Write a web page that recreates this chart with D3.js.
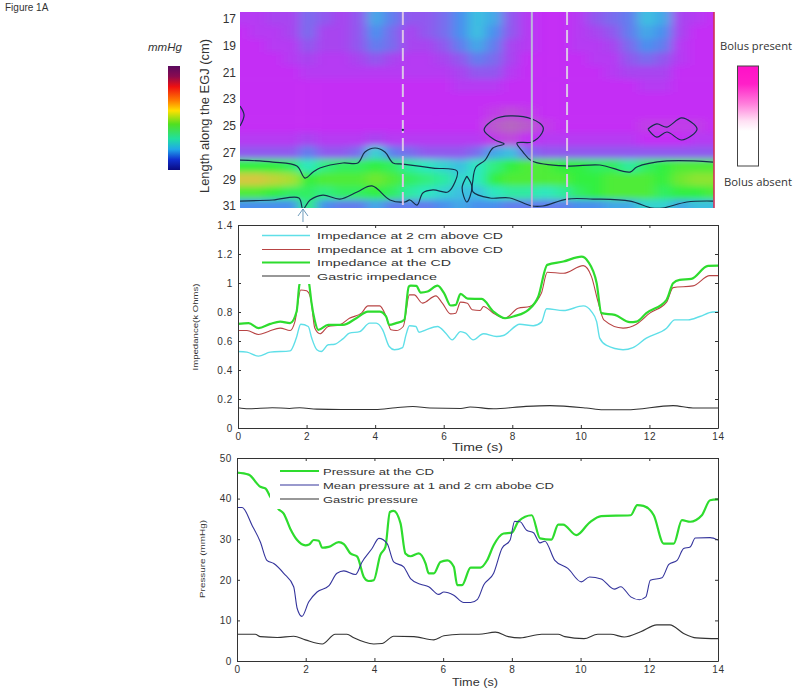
<!DOCTYPE html>
<html><head><meta charset="utf-8">
<script src="https://cdnjs.cloudflare.com/ajax/libs/d3/7.8.5/d3.min.js"></script>
<style>html,body{margin:0;padding:0;background:#fff}svg{display:block}text{font-family:"Liberation Sans",Arial,sans-serif;fill:#333}</style>
</head><body><svg id="c" width="800" height="698"></svg>
<script>
// ---------- heat map data ----------
const hmTimes = [0,.5,1,1.5,2,2.5,3,3.5,4,4.5,5,5.5,6,6.5,7,7.5,8,8.5,9,9.5,10,10.5,11,11.5,12,12.5,13,13.5,14];
const hmRows = [17,18,19,20,21,22,23,24,25,26,27,28,29,30,31];
const hmValues = [
[1,1,2,2,4,3,2,3,7,5,3,3,4,6,8,7,3,1,0,0,1,3,4,5,8,7,2,1,0],
[0,1,1,2,4,2,2,3,6,4,2,3,4,6,8,6,3,1,0,0,1,2,3,5,7,6,2,0,0],
[0,0,1,1,3,2,2,3,5,4,2,2,3,5,7,5,2,1,0,0,1,1,2,4,6,5,1,0,0],
[0,0,0,1,2,1,1,2,3,2,1,1,2,3,5,4,2,0,0,0,0,1,1,3,4,3,1,0,0],
[0,0,0,0,1,1,1,1,1,1,1,1,1,2,3,3,1,0,0,0,0,0,1,2,2,2,0,0,0],
[0,0,0,0,0,0,0,0,0,0,0,0,0,1,1,1,0,0,0,0,0,0,0,0,1,1,0,0,0],
[0,0,0,0,0,0,0,0,0,0,0,0,0,0,0,0,0,0,0,0,0,0,0,0,0,0,0,0,0],
[0,0,0,0,0,0,0,0,0,0,0,0,0,0,0,-1,-2,-1,0,0,0,0,0,0,0,0,0,0,0],
[0,0,0,0,0,0,0,0,0,0,0,0,0,0,0,-3,-4,-3,-1,0,0,0,0,0,-1,-1,-1,-1,0],
[1,1,1,1,2,1,1,1,2,1,1,1,1,1,1,-1,-2,0,1,1,1,1,1,1,0,0,0,1,1],
[3,3,3,3,5,3,3,4,9,5,4,3,3,3,4,7,8,4,3,3,3,3,3,3,3,3,3,3,3],
[14,14,14,13,10,12,13,13,14,13,11,10,9,8,10,12,14,15,15,14,14,13,13,11,13,14,15,15,15],
[20,20,19,18,14,15,15,15,16,15,13,12,11,9,10,14,15,15,15,15,14,14,15,15,15,14,16,17,17],
[15,15,14,13,13,12,13,13,14,13,11,10,9,8,8,10,11,11,10,11,13,14,15,15,15,13,14,14,15],
[6,6,6,6,12,6,5,5,7,5,5,5,6,7,6,6,5,5,5,5,6,6,7,7,9,9,7,8,8]];
const hmColorDomain = [-4,0,2,4,6,8,10,12,14,16,18,20];
const hmColorRange = ["#b568c0","#c42ef5","#a845f0","#7a6cee","#4a90ee","#3cc0e0","#2ee8c0","#30ee80","#30f040","#70e830","#a8e030","#d4c840"];
const hmTicks = [17,19,21,23,25,27,29,31];
const contourBandLeft = [[0,27.56],[.97,27.71],[1.68,28.01],[1.92,28.91],[2.16,28.46],[2.36,28.16],[3.04,27.78],[3.48,27.78],[3.69,26.96],[3.99,26.66],[4.28,26.96],[4.52,27.78],[4.81,27.86],[5.7,28.16],[6.41,28.38],[6.35,29.2],[6.14,29.95],[5.7,29.8],[5.4,30.03],[5.23,30.93],[5.02,30.55],[4.87,30.7],[4.43,30.55],[3.9,29.5],[3.46,29.95],[2.95,30.48],[2.45,30.18],[2.07,30.55],[1.86,31.23],[1.74,30.4],[.97,30.55],[0,30.63]];
const contourBandRight = [[13.97,27.71],[12.61,27.63],[11.72,28.08],[11.52,28.46],[10.63,27.93],[9.66,28.01],[8.62,27.63],[8.36,26.96],[8.18,26.29],[8.62,26.21],[8.92,25.54],[8.95,25.09],[8.62,24.49],[7.97,24.26],[7.53,24.49],[7.21,25.31],[7.53,26.06],[7.8,26.36],[7.47,26.66],[7.24,27.56],[6.97,28.08],[6.88,29.05],[6.88,29.95],[7.38,30.4],[7.97,30.4],[8.62,31],[8.95,31],[9.66,30.48],[10.43,30.48],[11.52,30.63],[12.17,31.15],[12.49,31.15],[13.2,30.7],[13.97,30.63]];
const contourLoop = [[6.7,28.76],[6.85,29.58],[6.7,30.7],[6.56,29.65],[6.7,28.76]];
const contourBlob = [[12.05,25.24],[12.31,24.86],[12.61,25.09],[13.05,24.41],[13.5,25.24],[13.05,26.06],[12.61,25.46],[12.31,25.84],[12.05,25.24]];
const contourEdge = [[0,23.52],[.12,24.19],[0,25.01]];
const vLines = [{t:4.81,dash:"13,5"},{t:8.62,dash:null},{t:9.66,dash:"13,5"}];
const pressureBarStops = [[0,"#5a0a5e"],[.1,"#8a0a50"],[.2,"#f01010"],[.33,"#ff7a00"],[.43,"#ffe000"],[.56,"#50e020"],[.7,"#20e0a0"],[.8,"#20a8e8"],[.9,"#1030d0"],[1,"#0a0a80"]];
const bolusBarStops = [[0,"#ff10c8"],[.18,"#ff20c8"],[.38,"#ff80dc"],[.55,"#ffe0f4"],[.65,"#ffffff"],[1,"#ffffff"]];

// ---------- impedance data ----------
const impCyan = [[0,.528],[.26,.523],[.6,.496],[.94,.523],[1.52,.532],[1.7,.62],[1.83,.716],[2.05,.7],[2.15,.62],[2.3,.54],[2.43,.528],[2.63,.574],[2.82,.578],[3.06,.615],[3.25,.654],[3.55,.665],[3.84,.723],[4.03,.723],[4.22,.677],[4.41,.562],[4.56,.54],[4.8,.555],[4.9,.642],[5,.705],[5.19,.7],[5.28,.66],[5.48,.677],[5.82,.7],[6.06,.654],[6.25,.608],[6.49,.665],[6.64,.654],[6.86,.608],[7.16,.65],[7.54,.631],[7.74,.638],[8.22,.716],[8.61,.705],[8.85,.73],[9,.822],[9.49,.81],[10.07,.842],[10.31,.803],[10.46,.734],[10.55,.62],[10.75,.569],[11.23,.54],[11.52,.555],[11.91,.62],[12.5,.688],[12.74,.746],[13.13,.746],[13.47,.769],[13.85,.8],[14,.8]];
const impRed = [[0,.672],[.26,.672],[.6,.645],[.89,.666],[1.23,.689],[1.52,.672],[1.66,.734],[1.83,.952],[2,.946],[2.12,.895],[2.24,.689],[2.39,.65],[2.63,.7],[2.97,.711],[3.25,.757],[3.6,.792],[3.79,.842],[4.13,.842],[4.32,.769],[4.46,.677],[4.61,.672],[4.82,.7],[5,.918],[5.14,.918],[5.38,.861],[5.77,.911],[5.96,.861],[6.2,.787],[6.35,.792],[6.49,.868],[6.69,.861],[6.83,.815],[7.06,.81],[7.16,.838],[7.45,.792],[7.79,.757],[8.17,.826],[8.51,.838],[8.85,.93],[9.02,1.074],[9.49,1.067],[10.07,1.12],[10.31,1.044],[10.5,.872],[10.67,.746],[11.23,.689],[11.62,.716],[12.01,.792],[12.5,.868],[12.69,.968],[13.27,.98],[13.76,1.051],[14,1.051]];
const impGreen = [[0,.718],[.31,.723],[.6,.689],[.94,.718],[1.23,.734],[1.52,.723],[1.71,.803],[1.79,.987],[1.9,1.05],[2.03,1.05],[2.08,.987],[2.14,.87],[2.24,.74],[2.34,.677],[2.63,.711],[3.06,.711],[3.45,.757],[3.79,.803],[4.13,.803],[4.32,.769],[4.41,.711],[4.61,.723],[4.85,.746],[4.98,.975],[5.04,.982],[5.2,.98],[5.33,.934],[5.53,.941],[5.82,.982],[6.01,.93],[6.2,.845],[6.35,.849],[6.49,.925],[6.7,.892],[7.11,.89],[7.45,.803],[7.79,.757],[8.08,.773],[8.47,.815],[8.76,.907],[9.02,1.125],[9.49,1.148],[10.02,1.182],[10.21,1.148],[10.46,1],[10.6,.792],[10.99,.78],[11.43,.73],[11.62,.734],[11.91,.792],[12.5,.884],[12.69,.998],[12.88,1.021],[13.22,1.028],[13.71,1.118],[14,1.12]];
const impGastric = [[0,.14],[.3,.133],[1,.14],[1.5,.135],[1.8,.14],[2.3,.13],[3,.128],[4,.128],[4.6,.14],[5.1,.148],[5.6,.138],[6.5,.135],[6.77,.145],[7.45,.133],[8.4,.149],[9.1,.154],[10.16,.138],[10.65,.126],[11.33,.126],[12.69,.154],[13.27,.138],[14,.138]];

// ---------- pressure data ----------
const presGreen = [[0,46.4],[.34,45.9],[.68,42.9],[.83,42.5],[.97,40.4],[1.21,37.4],[1.36,36.3],[1.55,32.6],[1.75,29.8],[1.99,28.5],[2.1,28.7],[2.23,29.8],[2.38,29.6],[2.48,27.9],[2.67,28.1],[2.96,29.3],[3.11,28.8],[3.3,26.5],[3.5,25.7],[3.69,20.7],[3.83,19.7],[3.98,19.9],[4.17,26.1],[4.32,28.1],[4.45,36.7],[4.56,37],[4.76,33.9],[4.9,26.5],[5.05,25.8],[5.29,26.5],[5.49,24],[5.58,21.6],[5.73,21.6],[5.92,24.4],[6.12,24.8],[6.31,23.2],[6.41,18.7],[6.55,18.7],[6.8,23],[7.09,23],[7.28,24.8],[7.47,28.5],[7.76,31.4],[8,31.6],[8.19,34.4],[8.58,35.9],[8.82,30.2],[9.15,29.9],[9.35,33.6],[9.49,33.6],[9.88,31],[10.26,34.1],[10.6,35.7],[11.46,35.9],[11.65,38.4],[11.83,38.2],[12.13,35.9],[12.42,28.9],[12.71,28.9],[12.95,34.7],[13.19,34.3],[13.53,35.9],[13.77,39.6],[14,39.8]];
const presBlue = [[0,37.8],[.15,37.8],[.44,33.4],[.68,29.3],[.87,24.8],[1.07,24],[1.36,21.6],[1.65,18.3],[1.75,13],[1.89,11],[2.09,14.6],[2.33,17],[2.67,18.5],[2.91,21.6],[3.11,22.2],[3.45,21.3],[3.64,24.4],[3.93,27.7],[4.13,30.2],[4.37,28.9],[4.56,24.4],[4.85,23.2],[5.05,20.3],[5.34,18.9],[5.58,18.3],[5.87,16.4],[6.02,17],[6.31,16.2],[6.6,14.4],[6.8,14.4],[7,15.2],[7.18,18.7],[7.47,21.6],[7.71,27.7],[7.95,29.8],[8.08,34.4],[8.24,34.3],[8.43,32.2],[8.63,31.6],[8.82,29.1],[8.96,29.5],[9.25,24.8],[9.63,22.8],[10.02,19.5],[10.26,20.7],[10.6,20.2],[10.98,17.7],[11.17,18.3],[11.46,15.8],[11.71,15.1],[11.9,15.8],[12.03,19.9],[12.37,20.5],[12.57,23.8],[12.81,24.8],[13,27.7],[13.19,28.1],[13.34,30.3],[13.77,30.4],[14,29.8]];
const presGastric = [[0,6.6],[.53,6.6],[.68,6],[1.17,5.8],[1.65,6.1],[1.99,5.2],[2.48,4.2],[2.86,6.6],[3.2,6.6],[3.4,5.7],[3.98,4.2],[4.22,4.3],[4.56,6.1],[5.15,6],[5.73,5.2],[6.02,6.2],[6.5,6.6],[7.04,6.6],[7.52,7.1],[7.9,6],[8.24,5.7],[8.87,6.6],[9.35,6.6],[9.54,6],[10.1,5.5],[10.5,6.6],[10.88,6.6],[11.27,5.9],[11.75,7.2],[12.22,8.9],[12.6,8.9],[13,6.8],[13.37,5.7],[14,5.5]];

const xTicks = [0,2,4,6,8,10,12,14];
const impTicks = [0,.2,.4,.6,.8,1,1.2,1.4];
const presTicks = [0,10,20,30,40,50];
const impLegend = [
 {label:"Impedance at 2 cm above CD",color:"#5fdfe8",w:1.5,len:186,ly:235.5,ty:239},
 {label:"Impedance at 1 cm above CD",color:"#b84444",w:1.1,len:186,ly:249.5,ty:253},
 {label:"Impedance at the CD",color:"#2edc2e",w:2.2,len:134,ly:262.5,ty:266},
 {label:"Gastric impedance",color:"#333333",w:1.1,len:120,ly:276,ty:280}];
const presLegend = [
 {label:"Pressure at the CD",color:"#2edc2e",w:2.2,len:111,ly:471,ty:474.5},
 {label:"Mean pressure at 1 and 2 cm abobe CD",color:"#34349c",w:1.1,len:231,ly:485,ty:489},
 {label:"Gastric pressure",color:"#333333",w:1.1,len:95,ly:499,ty:503}];

// ---------- drawing ----------
const svg = d3.select("#c");
const defs = svg.append("defs");
function txt(x,y,s,o={}){const t=svg.append("text").attr("x",x).attr("y",y).text(s);
  Object.entries(o).forEach(([k,v])=>t.attr(k,v));return t;}

const hmBox = {l:240,r:714,t:12,b:208};
const hx = d3.scaleLinear().domain([0,14]).range([hmBox.l,hmBox.r]);
const hy = d3.scaleLinear().domain([16.48,31.15]).range([hmBox.t,hmBox.b]);
const hc = d3.scaleLinear().domain(hmColorDomain).range(hmColorRange);
defs.append("clipPath").attr("id","hmclip").append("rect").attr("x",hmBox.l).attr("y",hmBox.t).attr("width",hmBox.r-hmBox.l).attr("height",hmBox.b-hmBox.t);
const blur = defs.append("filter").attr("id","soft").attr("filterUnits","userSpaceOnUse").attr("x",150).attr("y",-60).attr("width",660).attr("height",340);
blur.append("feGaussianBlur").attr("stdDeviation","6 3.2");
const hmOuter = svg.append("g").attr("clip-path","url(#hmclip)");
const hmG = hmOuter.append("g").attr("filter","url(#soft)");
hmRows.forEach((cm,r)=>hmTimes.forEach((t,c)=>{
  const x0=c===0?hx(t)-40:hx(t-.25), x1=c===hmTimes.length-1?hx(t)+40:hx(t+.25);
  const y0=r===0?hy(cm)-40:hy(cm-.5), y1=r===hmRows.length-1?hy(cm)+40:hy(cm+.5);
  hmG.append("rect").attr("x",x0).attr("y",y0).attr("width",x1-x0+.6).attr("height",y1-y0+.6).attr("fill",hc(hmValues[r][c]));
}));
const cLine = d3.line().x(d=>hx(d[0])).y(d=>hy(d[1])).curve(d3.curveCatmullRom.alpha(.5));
[contourBandLeft,contourBandRight,contourLoop,contourBlob,contourEdge].forEach(d=>{
  hmOuter.append("path").attr("d",cLine(d)).attr("fill","none").attr("stroke","#15304a").attr("stroke-width",1.2);
});
vLines.forEach(v=>{
  const l=hmOuter.append("line").attr("x1",hx(v.t)).attr("x2",hx(v.t)).attr("y1",hmBox.t).attr("y2",hmBox.b)
    .attr("stroke",v.dash?"#dcc4e8":"#bcb4dc").attr("stroke-width",2);
  if(v.dash) l.attr("stroke-dasharray",v.dash);
});
svg.append("line").attr("x1",hmBox.r).attr("x2",hmBox.r).attr("y1",hmBox.t).attr("y2",hmBox.b).attr("stroke","#d03058").attr("stroke-width",1.6);
svg.append("circle").attr("cx",hx(4.81)).attr("cy",hy(25.3)).attr("r",1.2).attr("fill","#15304a");
const ax=hx(1.86);
svg.append("path").attr("d",`M${ax},222V209M${ax-5},216L${ax},209L${ax+5},216`).attr("fill","none").attr("stroke","#6f9cbc").attr("stroke-width",1);
const hyAxis = svg.append("g").attr("transform",`translate(${hmBox.l-1},0)`).call(d3.axisLeft(hy).tickValues(hmTicks).tickSize(0).tickPadding(3));
hyAxis.select(".domain").remove();
hyAxis.selectAll("text").attr("font-size",12).style("font-family",'"Liberation Sans",Arial,sans-serif').attr("fill","#333");
txt(209,116,"Length along the EGJ (cm)",{"font-size":12,"text-anchor":"middle",transform:"rotate(-90 209 116)",textLength:154,lengthAdjust:"spacingAndGlyphs"});
txt(5,11,"Figure 1A",{"font-size":10});
txt(148,51,"mmHg",{"font-size":11.5,"font-style":"italic"});
txt(720,50,"Bolus present",{"font-size":11.5,style:'font-family:"Open Sans"',textLength:72,lengthAdjust:"spacingAndGlyphs"});
txt(724,186,"Bolus absent",{"font-size":11.5,style:'font-family:"Open Sans"',textLength:68,lengthAdjust:"spacingAndGlyphs"});

function gradient(id,stops){const g=defs.append("linearGradient").attr("id",id).attr("x1",0).attr("x2",0).attr("y1",0).attr("y2",1);
  stops.forEach(s=>g.append("stop").attr("offset",s[0]).attr("stop-color",s[1]));}
gradient("pbar",pressureBarStops); gradient("bbar",bolusBarStops);
svg.append("rect").attr("x",168).attr("y",66).attr("width",12).attr("height",104).attr("fill","url(#pbar)");
svg.append("rect").attr("x",737.5).attr("y",66).attr("width",21).attr("height",100).attr("fill","url(#bbar)").attr("stroke","#444").attr("stroke-width",1);

function panel(o){
  const x=d3.scaleLinear().domain([0,14]).range([o.l,o.r]);
  const y=d3.scaleLinear().domain(o.domain).range([o.b,o.t]);
  const g=svg.append("g");
  const line=d3.line().x(d=>x(d[0])).y(d=>y(d[1])).curve(d3.curveMonotoneX);
  o.series.forEach(s=>g.append("path").attr("d",line(s.data)).attr("fill","none").attr("stroke",s.color).attr("stroke-width",s.w));
  g.append("rect").attr("x",o.legend.x).attr("y",o.legend.y).attr("width",o.legend.w).attr("height",o.legend.h).attr("fill","#fff");
  o.legendItems.forEach(l=>{
    g.append("line").attr("x1",o.legend.lx0).attr("x2",o.legend.lx1).attr("y1",l.ly).attr("y2",l.ly).attr("stroke",l.color).attr("stroke-width",l.w);
    g.append("text").attr("x",o.legend.tx).attr("y",l.ty).attr("font-size",9.5).attr("fill","#333").attr("textLength",l.len).attr("lengthAdjust","spacingAndGlyphs").text(l.label);
  });
  const styleAxis=a=>{a.select(".domain").attr("stroke","#333");a.selectAll(".tick line").attr("stroke","#333");
    a.selectAll("text").attr("font-size",10).attr("fill","#444").style("font-family",'"Liberation Sans",Arial,sans-serif').attr("letter-spacing",.6);};
  const bot=g.append("g").attr("transform",`translate(0,${o.b})`).call(d3.axisBottom(x).tickValues(xTicks).tickSizeInner(-3).tickSizeOuter(0).tickPadding(5).tickFormat(d3.format("d")));
  const top=g.append("g").attr("transform",`translate(0,${o.t})`).call(d3.axisTop(x).tickValues(xTicks).tickSizeInner(-3).tickSizeOuter(0).tickFormat(""));
  const lef=g.append("g").attr("transform",`translate(${o.l},0)`).call(d3.axisLeft(y).tickValues(o.ticks).tickSizeInner(-3).tickSizeOuter(0).tickPadding(5).tickFormat(d=>String(d)));
  const rig=g.append("g").attr("transform",`translate(${o.r},0)`).call(d3.axisRight(y).tickValues(o.ticks).tickSizeInner(-3).tickSizeOuter(0).tickFormat(""));
  [bot,top,lef,rig].forEach(styleAxis);
  g.append("text").attr("x",o.xlabel.x).attr("y",o.xlabel.y).attr("font-size",10).attr("fill","#444").attr("textLength",o.xlabel.len).attr("lengthAdjust","spacingAndGlyphs").text("Time (s)");
  g.append("text").attr("text-anchor","middle").attr("font-size",8).attr("fill","#444")
   .attr("transform",`translate(${o.ylabel.x},${o.ylabel.y}) rotate(-90)`).attr("textLength",o.ylabel.len).attr("lengthAdjust","spacingAndGlyphs").text(o.ylabel.text);
}
panel({l:238,r:718,t:225,b:428,domain:[0,1.4],ticks:impTicks,
 series:[{data:impCyan,color:"#5fdfe8",w:1.4},{data:impRed,color:"#b84444",w:1.1},{data:impGreen,color:"#2edc2e",w:2.2},{data:impGastric,color:"#333333",w:1.1}],
 legend:{x:258,y:229,w:250,h:55,lx0:262,lx1:310,tx:317},legendItems:impLegend,
 xlabel:{x:452,y:451,len:51},ylabel:{x:198,y:327,len:87,text:"Impedance(k Ohms)"}});
panel({l:237,r:718,t:458,b:661,domain:[0,50],ticks:presTicks,
 series:[{data:presGreen,color:"#2edc2e",w:2.2},{data:presBlue,color:"#34349c",w:1.1},{data:presGastric,color:"#333333",w:1.1}],
 legend:{x:270,y:462,w:290,h:47,lx0:280,lx1:319,tx:323},legendItems:presLegend,
 xlabel:{x:452,y:686,len:46},ylabel:{x:205,y:559,len:78,text:"Pressure (mmHg)"}});
</script></body></html>
